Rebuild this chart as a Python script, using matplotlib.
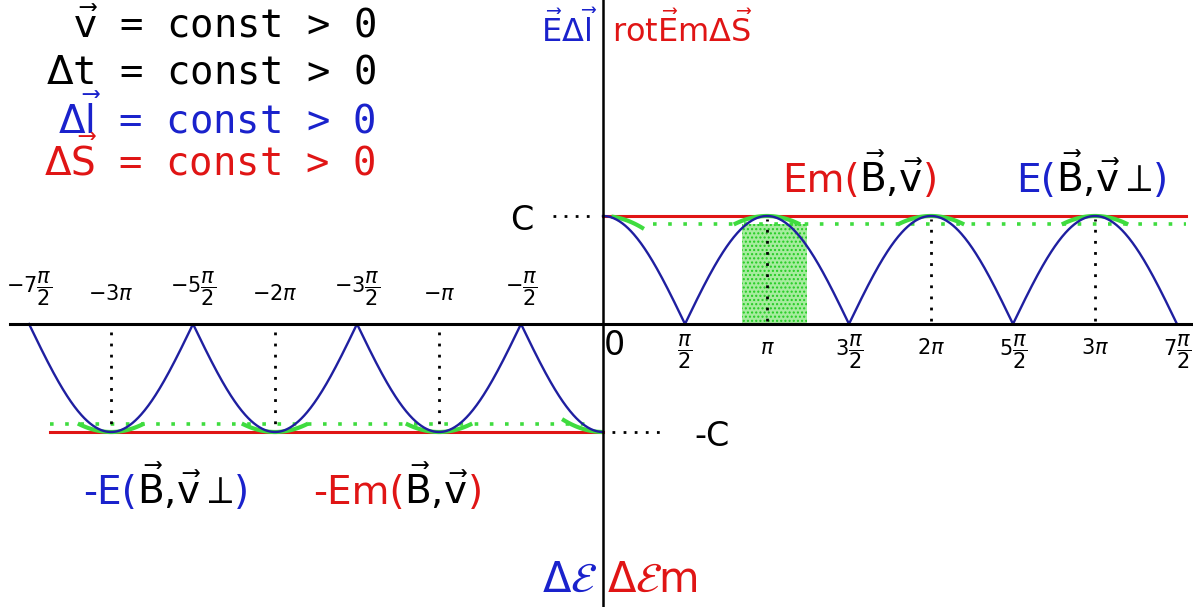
import numpy as np
import matplotlib
matplotlib.use('Agg')
import matplotlib.pyplot as plt
from matplotlib.offsetbox import TextArea, HPacker, AnnotationBbox
from matplotlib.patches import Rectangle

plt.rcParams['mathtext.fontset'] = 'dejavusans'

# ---- data ----
C = 1.0
pi = np.pi
right_range = (0.0, 3.5 * pi)          # E = C*|cos x|
left_range = (-3.5 * pi, 0.0)          # -E = -C*|cos x|
right_peaks = [pi, 2 * pi, 3 * pi]
left_troughs = [-3 * pi, -2 * pi, -pi]
dotted_level = 0.93                      # green dotted level (fraction of C)
shade_range = (2.66, 3.90)               # shaded strip around pi
cap_half = 0.6

right_ticks = [0, pi / 2, pi, 1.5 * pi, 2 * pi, 2.5 * pi, 3 * pi, 3.5 * pi]
right_labels = ['0', r'$\dfrac{\pi}{2}$', r'$\pi$', r'3$\dfrac{\pi}{2}$', r'2$\pi$',
                r'5$\dfrac{\pi}{2}$', r'3$\pi$', r'7$\dfrac{\pi}{2}$']
left_ticks = [-3.5 * pi, -3 * pi, -2.5 * pi, -2 * pi, -1.5 * pi, -pi, -pi / 2]
left_labels = [r'$-7\dfrac{\pi}{2}$', r'$-3\pi$', r'$-5\dfrac{\pi}{2}$', r'$-2\pi$',
               r'$-3\dfrac{\pi}{2}$', r'$-\pi$', r'$-\dfrac{\pi}{2}$']

BLUE_LINE = '#1f1fa0'
BLUE = '#1a22cc'
RED = '#e01515'
GREEN = '#3fdc3f'

W, H = 1193, 607
fig = plt.figure(figsize=(W / 100, H / 100), dpi=100)
ax = fig.add_axes([0, 0, 1, 1])
PX = 52.2   # px per radian
PY = 108.0  # px per C
ax.set_xlim(-603 / PX, (W - 603) / PX)
ax.set_ylim(-(H - 324) / PY, 324 / PY)
ax.axis('off')

# axes
ax.axhline(0, xmin=10 / W, xmax=1, color='black', lw=2.2, zorder=5)
ax.axvline(0, color='black', lw=1.8, zorder=5)

# shaded strip
ax.add_patch(Rectangle((shade_range[0], 0), shade_range[1] - shade_range[0], dotted_level * C,
                       facecolor='#a6ec9e', edgecolor='#22cc22', hatch='....', lw=0, zorder=1))

# red constant lines
ax.plot([0, 11.17], [C, C], color=RED, lw=2.2, zorder=3)
ax.plot([-10.6, 0], [-C, -C], color=RED, lw=2.2, zorder=3)

# green dotted lines
ax.plot([0.95, 11.17], [dotted_level * C] * 2, color=GREEN, lw=2.6, ls=(0, (1, 3.2)), zorder=2)
ax.plot([-10.6, -0.2], [-dotted_level * C] * 2, color=GREEN, lw=2.6, ls=(0, (1, 3.2)), zorder=2)

# green caps near extremes
k = (1 - dotted_level) / cap_half ** 2
for xp in right_peaks:
    xs = np.linspace(xp - cap_half, xp + cap_half, 50)
    ax.plot(xs, C * (1 - k * (xs - xp) ** 2), color=GREEN, lw=3, zorder=3)
xs = np.linspace(0.2, cap_half + 0.15, 30)
ax.plot(xs, C * (1 - k * (xs) ** 2), color=GREEN, lw=3, zorder=3)
for xp in left_troughs:
    xs = np.linspace(xp - cap_half, xp + cap_half, 50)
    ax.plot(xs, -C * (1 - k * (xs - xp) ** 2), color=GREEN, lw=3, zorder=3)
xs = np.linspace(-cap_half - 0.15, -0.05, 30)
ax.plot(xs, -C * (1 - k * (xs) ** 2), color=GREEN, lw=3, zorder=3)

# curves
xr = np.linspace(*right_range, 800)
ax.plot(xr, C * np.abs(np.cos(xr)), color=BLUE_LINE, lw=1.7, zorder=4)
xl = np.linspace(*left_range, 800)
ax.plot(xl, -C * np.abs(np.cos(xl)), color=BLUE_LINE, lw=1.7, zorder=4)

# vertical dotted lines
for xp in right_peaks:
    ax.plot([xp, xp], [0.03, 0.97 * C], color='black', lw=2, ls=(0, (1, 3)), zorder=4)
for xp in left_troughs:
    ax.plot([xp, xp], [-0.07, -0.97 * C], color='black', lw=2, ls=(0, (1, 3)), zorder=4)

# C / -C marks
ax.plot([-0.96, -0.11], [C, C], color='black', lw=2, ls=(0, (1, 3)))
ax.plot([0.17, 1.09], [-C, -C], color='black', lw=2, ls=(0, (1, 3)))


def fp(x, y):
    return (x / W, 1 - y / H)


fig.text(*fp(522, 220), 'C', fontsize=24, ha='center', va='center')
fig.text(*fp(712, 437), '-C', fontsize=24, ha='center', va='center')

# tick labels
for t, lab in zip(right_ticks, right_labels):
    if t == 0:
        ax.text(0.22, -0.2, lab, fontsize=24, ha='center', va='center')
    elif 'frac' in lab:
        ax.text(t, -0.26, lab, fontsize=15, ha='center', va='center')
    else:
        ax.text(t, -0.22, lab, fontsize=15, ha='center', va='center')
for t, lab in zip(left_ticks, left_labels):
    ax.text(t, 0.33 if 'frac' in lab else 0.28, lab, fontsize=15, ha='center', va='center')

# top-left block
mono = 'DejaVu Sans Mono'
lines = [(r'$\vec{\mathrm{v}}$ = const > 0', 'black', 27),
         (r'$\Delta$t = const > 0', 'black', 72),
         (r'$\Delta\vec{\mathrm{l}}$ = const > 0', BLUE, 118),
         (r'$\Delta\vec{\mathrm{S}}$ = const > 0', RED, 160)]
for txt, col, y in lines:
    fig.text(*fp(376, y), txt, fontsize=28, family=mono, color=col, ha='right', va='center')

fig.text(*fp(598, 30), r'$\vec{\mathrm{E}}\Delta\vec{\mathrm{l}}$', fontsize=23, color=BLUE,
         ha='right', va='center')
fig.text(*fp(612, 30), r'rot$\vec{\mathrm{E}}$m$\Delta\vec{\mathrm{S}}$', fontsize=23, color=RED,
         ha='left', va='center')

fig.text(*fp(597, 580), r'$\Delta\mathcal{E}$', fontsize=30, color=BLUE, ha='right', va='center')
fig.text(*fp(607, 580), r'$\Delta\mathcal{E}$m', fontsize=30, color=RED, ha='left', va='center')


def multicolor(parts, x, y, size):
    children = [TextArea(t, textprops=dict(color=c, fontsize=size)) for t, c in parts]
    box = HPacker(children=children, align='baseline', pad=0, sep=0)
    ab = AnnotationBbox(box, (x, H - y), xycoords='figure pixels', frameon=False,
                        box_alignment=(0.5, 0.5), pad=0)
    fig.add_artist(ab)


BV = r'$\vec{\mathrm{B}}$,$\vec{\mathrm{v}}$'
BVP = r'$\vec{\mathrm{B}}$,$\vec{\mathrm{v}}\perp$'
multicolor([('Em(', RED), (BV, 'black'), (')', RED)], 860, 175, 28)
multicolor([('E(', BLUE), (BVP, 'black'), (')', BLUE)], 1092, 175, 28)
multicolor([('-E(', BLUE), (BVP, 'black'), (')', BLUE)], 166, 487, 28)
multicolor([('-Em(', RED), (BV, 'black'), (')', RED)], 398, 487, 28)

fig.savefig('out.png', dpi=100)
